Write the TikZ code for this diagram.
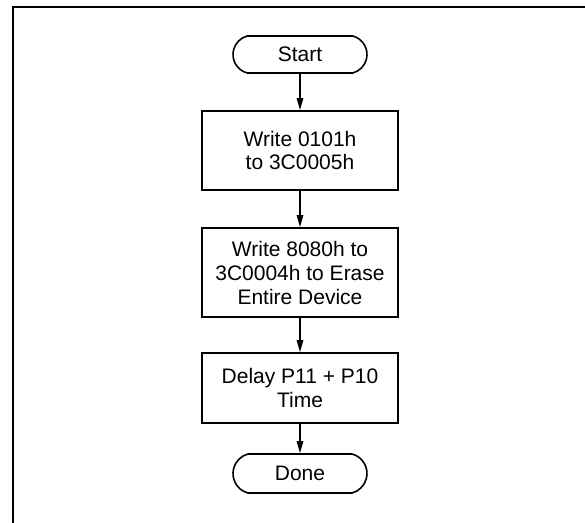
\documentclass[tikz,border=0pt]{standalone}
\usepackage{fontspec}
\setmainfont{Liberation Sans}
\usepackage{tikz}
\usetikzlibrary{arrows.meta,shapes.misc}

\begin{document}
\begin{tikzpicture}[x=0.5pt,y=-0.5pt,
  term/.style={draw,line width=0.8pt,rounded rectangle,rounded rectangle arc length=150,minimum width=67pt,inner sep=0pt,font=\fontsize{10.5}{12}\selectfont},
  proc/.style={draw,line width=0.8pt,minimum width=98pt,inner sep=0pt,align=center,font=\fontsize{10.5}{12}\selectfont},
  flow/.style={line width=0.8pt,-{Triangle[length=6pt,width=3.2pt]}}]
 \useasboundingbox (0,0) rectangle (585,523);
 \draw[line width=1pt] (585,7) -- (13,7) -- (13,523);

 \node[term,minimum height=18.5pt] (start) at (300,54.5) {Start};
 \node[proc,minimum height=39.5pt] (wr1) at (300,150.5) {Write 0101h\\to 3C0005h};
 \node[proc,minimum height=44.5pt] (wr2) at (300,272.5) {Write 8080h to\\3C0004h to Erase\\Entire Device};
 \node[proc,minimum height=35pt] (delay) at (300,388) {Delay P11 + P10\\Time};
 \node[term,minimum height=19.5pt] (done) at (300,473.5) {Done};

\draw[flow] (start) -- (wr1);
\draw[flow] (wr1) -- (wr2);
\draw[flow] (wr2) -- (delay);
\draw[flow] (delay) -- (done);
  \end{tikzpicture}
\end{document}
